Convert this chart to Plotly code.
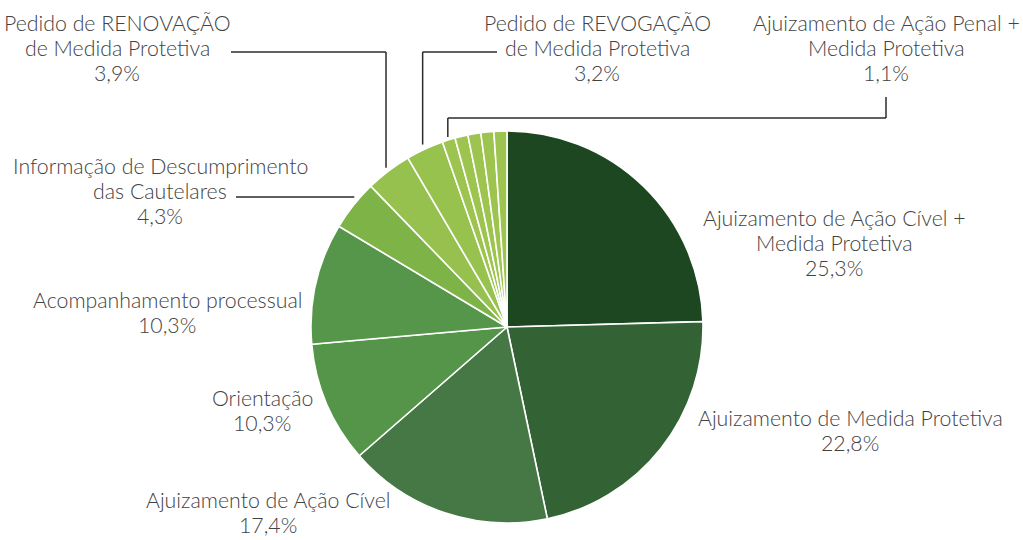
import math
import plotly.graph_objects as go

# ---- data ----
categories = [
    "Ajuizamento de Ação Cível + Medida Protetiva",
    "Ajuizamento de Medida Protetiva",
    "Ajuizamento de Ação Cível",
    "Orientação",
    "Acompanhamento processual",
    "Informação de Descumprimento das Cautelares",
    "Pedido de RENOVAÇÃO de Medida Protetiva",
    "Pedido de REVOGAÇÃO de Medida Protetiva",
    "Ajuizamento de Ação Penal + Medida Protetiva",
    "Outros 1",
    "Outros 2",
    "Outros 3",
    "Outros 4",
]
values = [25.3, 22.8, 17.4, 10.3, 10.3, 4.3, 3.9, 3.2, 1.1, 1.1, 1.1, 1.1, 1.1]
value_labels = ["25,3%", "22,8%", "17,4%", "10,3%", "10,3%", "4,3%", "3,9%", "3,2%", "1,1%",
                "", "", "", ""]
label_lines = [
    ["Ajuizamento de Ação Cível +", "Medida Protetiva"],
    ["Ajuizamento de Medida Protetiva"],
    ["Ajuizamento de Ação Cível"],
    ["Orientação"],
    ["Acompanhamento processual"],
    ["Informação de Descumprimento", "das Cautelares"],
    ["Pedido de RENOVAÇÃO", "de Medida Protetiva"],
    ["Pedido de REVOGAÇÃO", "de Medida Protetiva"],
    ["Ajuizamento de Ação Penal +", "Medida Protetiva"],
    [], [], [], [],
]
colors = ["#1c4721", "#336334", "#467845", "#55954a", "#56964a", "#7db347",
          "#97c14e", "#98c24e", "#9cc44f", "#9cc44f", "#9cc44f", "#9cc44f", "#9cc44f"]

# ---- layout geometry (pixels) ----
W, H = 1023, 540
CX, CY, R = 507, 327, 196
FONT = "Lato"
TXT = "#424242"
FS = 21.3
LH = 25

# label centre positions in pixels
label_pos = {
    0: (834, 243),
    1: (850, 430),
    2: (268, 512),
    3: (262, 410),
    4: (167, 312),
    5: (160, 191),
    6: (117, 48),
    7: (597, 48),
    8: (886, 48),
}

def px(x):
    return x / W

def py(y):
    return 1 - y / H

fig = go.Figure(go.Pie(
    labels=categories,
    values=values,
    sort=False,
    direction="clockwise",
    rotation=0,
    marker=dict(colors=colors, line=dict(color="white", width=1.6)),
    textinfo="none",
    hoverinfo="label+percent",
    showlegend=False,
    domain=dict(x=[px(CX - R), px(CX + R)], y=[py(CY + R), py(CY - R)]),
))

annotations = []
for i, (lx, ly) in label_pos.items():
    lines = label_lines[i] + [value_labels[i]]
    n = len(lines)
    for k, t in enumerate(lines):
        yy = ly + (k - (n - 1) / 2) * LH
        annotations.append(dict(
            x=px(lx), y=py(yy), xref="paper", yref="paper",
            text=t, showarrow=False, align="center",
            xanchor="center", yanchor="middle",
            font=dict(family=FONT, size=FS, color=TXT, weight=300),
        ))

# mid-angle of each slice (clockwise from 12 o'clock)
total = sum(values)
mids = []
acc = 0
for v in values:
    mids.append((acc + v / 2) / total * 2 * math.pi)
    acc += v

def edge_point(i, extra=0):
    a = mids[i]
    return CX + (R + extra) * math.sin(a), CY - (R + extra) * math.cos(a)

shapes = []
LINE = dict(color="#2b2b2b", width=1.5)

def seg(x0, y0, x1, y1):
    shapes.append(dict(type="line", xref="paper", yref="paper",
                       x0=px(x0), y0=py(y0), x1=px(x1), y1=py(y1), line=LINE))

# Informação: horizontal leader
ey = 197
ex = CX - math.sqrt(R ** 2 - (CY - ey) ** 2) - 6
seg(236, ey, ex, ey)

# RENOVAÇÃO: horizontal then down
x6, y6 = edge_point(6, 4)
seg(231, 52, x6, 52)
seg(x6, 52, x6, y6)

# REVOGAÇÃO: horizontal then down
x7, y7 = edge_point(7, 5)
seg(497, 52, x7, 52)
seg(x7, 52, x7, y7)

# Ação Penal: down from label, left, then down to slice
x8, y8 = edge_point(8, 3)
seg(886, 97, 886, 118)
seg(886, 118, x8, 118)
seg(x8, 118, x8, y8)

fig.update_layout(
    width=W, height=H,
    margin=dict(l=0, r=0, t=0, b=0),
    paper_bgcolor="white", plot_bgcolor="white",
    annotations=annotations, shapes=shapes,
)

fig.write_html("out.html", config={"displayModeBar": False},
               post_script="document.body.style.margin='0';document.body.style.overflow='hidden';")
